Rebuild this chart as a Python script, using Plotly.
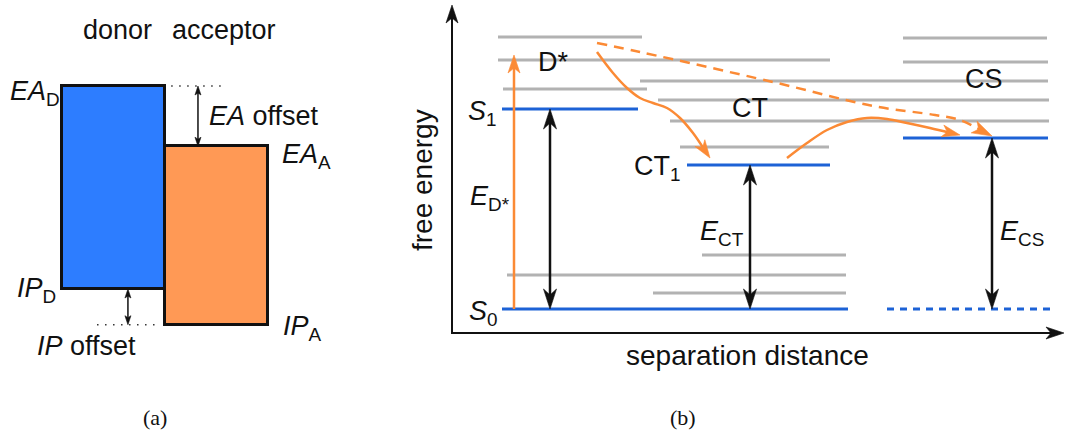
import math
import plotly.graph_objects as go

W, H = 1066, 434
FONT = "Liberation Sans, Arial, sans-serif"
SERIF = "Liberation Serif, Times New Roman, serif"

# ---------------- panel (a): frontier levels of donor / acceptor (eV) ----------------
materials = ["donor", "acceptor"]
ea_levels = [-3.0, -3.86]      # electron affinity
ip_levels = [-5.9, -6.41]      # ionisation potential
bar_colors = ["#2d7dff", "#ff9955"]

# ---------------- panel (b): state energies (arb. units, S0 = 0) ----------------
level_names = ["S1", "CT1", "CS", "S0"]
level_E = [2.0, 1.44, 1.71, 0.0]
level_from = [0.50, 2.35, 4.51, 0.50]
level_to = [1.86, 3.78, 5.96, 3.96]
cs_ground_from, cs_ground_to = 4.35, 6.00   # ground state at full separation

# vibronic / higher-lying manifolds
manifold_E = [2.72, 2.49, 2.20, 2.28, 2.09, 1.88, 1.62, 2.71, 2.47, 0.54, 0.34, 0.16]
manifold_from = [0.46, 0.46, 0.51, 1.88, 2.06, 2.18, 2.28, 4.51, 4.51, 2.50, 0.55, 2.01]
manifold_to = [1.90, 3.78, 1.95, 5.96, 5.97, 5.97, 3.77, 5.95, 5.96, 3.94, 3.94, 3.94]

# energy-gap arrows (E_D*, E_CT, E_CS)
gap_x = [0.98, 2.98, 5.40]
gap_top = [2.0, 1.44, 1.71]
excite_x, excite_top = 0.62, 2.54        # optical excitation into D*

# transfer pathways
dct_x = [1.45, 1.61, 1.75, 1.88, 2.01, 2.15, 2.28, 2.41, 2.58]
dct_y = [2.57, 2.36, 2.21, 2.11, 2.06, 2.01, 1.91, 1.76, 1.51]
ctcs_x = [3.35, 3.55, 3.75, 3.95, 4.15, 4.35, 4.55, 4.78, 5.08]
ctcs_y = [1.51, 1.66, 1.79, 1.87, 1.91, 1.90, 1.86, 1.81, 1.74]
direct_x = [1.45, 1.88, 3.21, 4.21, 4.83, 5.08, 5.40]
direct_y = [2.66, 2.57, 2.27, 2.03, 1.94, 1.89, 1.73]

BLUE = "#1d62d6"
GRAY = "#b2b2b2"
ORANGE = "#fb8a35"

# pixel scales of the two coordinate systems
SXA, SYA = 103.0, 70.0
SXB, SYB = 100.0, 100.0

fig = go.Figure()


def head(tip_x, tip_y, dir_x, dir_y, sx, sy, L, Wd, notch, color, xa, ya):
    """Stealth arrowhead; direction given in data units, sizes in px."""
    px, py = dir_x * sx, dir_y * sy
    n = math.hypot(px, py)
    ux, uy = px / n, py / n
    nx, ny = -uy, ux
    offs = [(0, 0),
            (-L * ux + Wd / 2 * nx, -L * uy + Wd / 2 * ny),
            (-(L - notch) * ux, -(L - notch) * uy),
            (-L * ux - Wd / 2 * nx, -L * uy - Wd / 2 * ny),
            (0, 0)]
    xs = [tip_x + ox / sx for ox, oy in offs]
    ys = [tip_y + oy / sy for ox, oy in offs]
    fig.add_trace(go.Scatter(x=xs, y=ys, mode="lines", fill="toself", fillcolor=color,
                             line=dict(color=color, width=0.6), xaxis=xa, yaxis=ya,
                             hoverinfo="skip", showlegend=False))


def vline_arrow(x, y0, y1, sx, sy, color, width, L, Wd, notch, both, xa, ya):
    # y1 is the head end; y0 the tail, optionally also headed
    sgn = 1 if y1 > y0 else -1
    a = y0 + (sgn * L * 0.6 / sy if both else 0)
    b = y1 - sgn * L * 0.6 / sy
    fig.add_trace(go.Scatter(x=[x, x], y=[a, b], mode="lines",
                             line=dict(color=color, width=width), xaxis=xa, yaxis=ya,
                             hoverinfo="skip", showlegend=False))
    head(x, y1, 0, sgn, sx, sy, L, Wd, notch, color, xa, ya)
    if both:
        head(x, y0, 0, -sgn, sx, sy, L, Wd, notch, color, xa, ya)


# ---- panel (a) bars ----
fig.add_trace(go.Bar(
    x=[0.5, 1.5], base=ip_levels,
    y=[ea - ip for ea, ip in zip(ea_levels, ip_levels)],
    width=[1, 1], marker=dict(color=bar_colors, line=dict(color="#111111", width=3)),
    xaxis="x", yaxis="y", hoverinfo="skip", showlegend=False))

# offset guide lines (dotted) and offset arrows
fig.add_trace(go.Scatter(x=[1.06, 1.56], y=[ea_levels[0]] * 2, mode="lines",
                         line=dict(color="#333333", width=1.5, dash="1.5px,6.5px"),
                         xaxis="x", yaxis="y", hoverinfo="skip", showlegend=False))
fig.add_trace(go.Scatter(x=[0.34, 0.95], y=[ip_levels[1]] * 2, mode="lines",
                         line=dict(color="#333333", width=1.5, dash="1.5px,6.5px"),
                         xaxis="x", yaxis="y", hoverinfo="skip", showlegend=False))
vline_arrow(1.32, ea_levels[1], ea_levels[0], SXA, SYA, "#111111", 1.5, 9, 6, 2, True, "x", "y")
vline_arrow(0.64, ip_levels[1], ip_levels[0], SXA, SYA, "#111111", 1.5, 9, 6, 2, True, "x", "y")

# ---- panel (b) axes ----
axis_y0 = -0.24
vline_arrow(0.0, axis_y0, 3.04, SXB, SYB, "#111111", 2, 18, 12, 5, False, "x2", "y2")
fig.add_trace(go.Scatter(x=[-0.01, 6.02], y=[axis_y0, axis_y0], mode="lines",
                         line=dict(color="#111111", width=2), xaxis="x2", yaxis="y2",
                         hoverinfo="skip", showlegend=False))
head(6.12, axis_y0, 1, 0, SXB, SYB, 18, 12, 5, "#111111", "x2", "y2")

# manifolds
mx, my = [], []
for e, a, b in zip(manifold_E, manifold_from, manifold_to):
    mx += [a, b, None]
    my += [e, e, None]
fig.add_trace(go.Scatter(x=mx, y=my, mode="lines", line=dict(color=GRAY, width=3),
                         xaxis="x2", yaxis="y2", hoverinfo="skip", showlegend=False))

# electronic states
lx, ly = [], []
for e, a, b in zip(level_E, level_from, level_to):
    lx += [a, b, None]
    ly += [e, e, None]
fig.add_trace(go.Scatter(x=lx, y=ly, mode="lines", line=dict(color=BLUE, width=3),
                         xaxis="x2", yaxis="y2", hoverinfo="skip", showlegend=False))
fig.add_trace(go.Scatter(x=[cs_ground_from, cs_ground_to], y=[level_E[3]] * 2, mode="lines",
                         line=dict(color=BLUE, width=3, dash="7px,6px"),
                         xaxis="x2", yaxis="y2", hoverinfo="skip", showlegend=False))

# excitation
vline_arrow(excite_x, level_E[3], excite_top, SXB, SYB, ORANGE, 2.5, 18, 12, 5, False, "x2", "y2")

# energy gaps
for gx, gt in zip(gap_x, gap_top):
    vline_arrow(gx, 0.0, gt, SXB, SYB, "#111111", 2.5, 20, 13, 6, True, "x2", "y2")


def path_arrow(xs, ys, dash=None, L=18, Wd=12):
    dx, dy = xs[-1] - xs[-2], ys[-1] - ys[-2]
    n = math.hypot(dx * SXB, dy * SYB)
    trim = 10.0 / n
    cx = list(xs[:-1]) + [xs[-1] - dx * trim]
    cy = list(ys[:-1]) + [ys[-1] - dy * trim]
    line = dict(color=ORANGE, width=2.5, shape="spline", smoothing=1.0)
    if dash:
        line["dash"] = dash
    fig.add_trace(go.Scatter(x=cx, y=cy, mode="lines", line=line, xaxis="x2", yaxis="y2",
                             hoverinfo="skip", showlegend=False))
    head(xs[-1], ys[-1], dx, dy, SXB, SYB, L, Wd, 5, ORANGE, "x2", "y2")


path_arrow(dct_x, dct_y)
path_arrow(ctcs_x, ctcs_y)
path_arrow(direct_x, direct_y, dash="10px,7px", L=20, Wd=13)


# ---- text ----
def label(text, px, py, size=27, xanchor="left", family=FONT, angle=0):
    fig.add_annotation(text=text, x=px / W, y=1 - py / H, xref="paper", yref="paper",
                       xanchor=xanchor, yanchor="middle", showarrow=False, textangle=angle,
                       font=dict(family=family, size=size, color="#111111"))


label(materials[0], 117, 30, xanchor="center")
label(materials[1], 224, 30, xanchor="center")
label("<i>EA</i><sub>D</sub>", 8, 93)
label("<i>EA</i> offset", 207, 116)
label("<i>EA</i><sub>A</sub>", 280, 156)
label("<i>IP</i><sub>D</sub>", 15, 290)
label("<i>IP</i> offset", 35, 346)
label("<i>IP</i><sub>A</sub>", 281, 328)
label("(a)", 155, 417, size=22, xanchor="center", family=SERIF)

label("free energy", 422, 180, size=28, xanchor="center", angle=-90)
label("separation distance", 747, 355, size=28, xanchor="center")
label("(b)", 683, 417, size=22, xanchor="center", family=SERIF)
label("D*", 536, 62)
label("<i>S</i><sub>1</sub>", 466, 113)
label("CT", 730, 108)
label("CS", 963, 79)
label("CT<sub>1</sub>", 632, 168)
label("<i>E</i><sub>D*</sub>", 468, 198)
label("<i>S</i><sub>0</sub>", 467, 313)
label("<i>E</i><sub>CT</sub>", 698, 233)
label("<i>E</i><sub>CS</sub>", 998, 233)

hidden = dict(visible=False, showgrid=False, zeroline=False, fixedrange=True)
fig.update_layout(
    width=W, height=H, margin=dict(l=0, r=0, t=0, b=0),
    paper_bgcolor="white", plot_bgcolor="white", showlegend=False, bargap=0,
    xaxis=dict(domain=[0, 360 / W], range=[-0.602, 2.893], anchor="y", **hidden),
    yaxis=dict(domain=[0, 1], range=[-7.9714, -1.7714], anchor="x", **hidden),
    xaxis2=dict(domain=[360 / W, 1], range=[-0.92, 6.14], anchor="y2", **hidden),
    yaxis2=dict(domain=[0, 1], range=[-1.25, 3.09], anchor="x2", **hidden),
)

fig.write_html("out.html")
